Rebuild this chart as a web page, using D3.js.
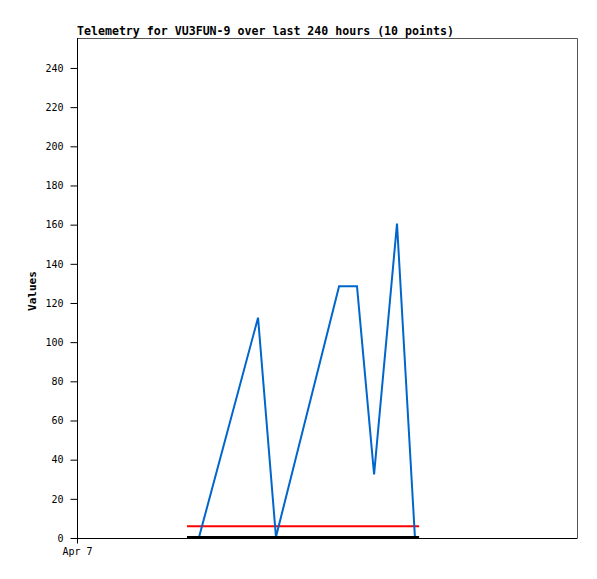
<!DOCTYPE html>
<html><head><meta charset="utf-8">
<script src="https://cdn.jsdelivr.net/npm/d3@7"></script>
<style>body{margin:0;background:#fff}</style>
</head><body>
<svg id="c" width="597" height="579"></svg>
<script>
const title = "Telemetry for VU3FUN-9 over last 240 hours (10 points)";
const hours = [52.8, 58.6, 86.9, 95.5, 125.8, 134.4, 142.6, 153.6, 162.2, 164.2];
const valuesBlue = [0, 0, 112, 0, 128, 128, 32, 160, 0, 0];
const valuesRed = [6, 6, 6, 6, 6, 6, 6, 6, 6, 6];
const valuesBlack = [0, 0, 0, 0, 0, 0, 0, 0, 0, 0];
const yTicks = [0, 20, 40, 60, 80, 100, 120, 140, 160, 180, 200, 220, 240];
const xTickLabels = ["Apr 7"];
const xTickHours = [0];

const svg = d3.select("#c");
const L = 77, T = 38, R = 577, B = 538;
const x = d3.scaleLinear().domain([0, 240]).range([L, R]);
const y = d3.scaleLinear().domain([0, 255.3]).range([B, T]);
const mono = "'DejaVu Sans Mono', monospace";

svg.append("path").attr("d", `M${L},${T+0.5}H${R+0.5}V${B}`).attr("fill","none").attr("stroke","#555").attr("stroke-width",1);

const ya = svg.append("g").attr("transform", `translate(${L+0.5},0)`)
  .call(d3.axisLeft(y).tickValues(yTicks).tickSize(7).tickPadding(7).tickFormat(d3.format("d")));
ya.select(".domain").attr("stroke","#000").attr("d", `M0,${T}V${B}`);
ya.selectAll("text").attr("font-family", mono).attr("font-size", 10).attr("fill","#000");
ya.selectAll("line").attr("stroke","#000");

const xa = svg.append("g").attr("transform", `translate(0,${B+0.5})`)
  .call(d3.axisBottom(x).tickValues(xTickHours).tickSize(5).tickPadding(4).tickFormat((d,i)=>xTickLabels[i]));
xa.select(".domain").attr("stroke","#000").attr("d", `M${L},0H${R+0.5}`);
xa.selectAll("text").attr("font-family", mono).attr("font-size", 10).attr("fill","#000");
xa.selectAll("line").attr("stroke","#000");

const line = vals => d3.line().x((d,i)=>x(hours[i])).y(d=>y(d))(vals);
svg.append("path").attr("d", line(valuesRed)).attr("fill","none").attr("stroke","#ff0000").attr("stroke-width",2);
svg.append("path").attr("d", line(valuesBlue)).attr("fill","none").attr("stroke","#0066cc").attr("stroke-width",2).attr("transform","translate(0,-1)");
svg.append("path").attr("d", line(valuesBlack)).attr("fill","none").attr("stroke","#000").attr("stroke-width",2).attr("transform","translate(0,-1)");

svg.append("text").attr("x", L).attr("y", 35).text(title)
  .attr("font-family", mono).attr("font-weight","bold").attr("font-size", 11.6).attr("fill","#000");

svg.append("text").attr("transform", `translate(36,${(T+B)/2+3}) rotate(-90)`).attr("text-anchor","middle")
  .text("Values").attr("font-family", mono).attr("font-weight","bold").attr("font-size", 11).attr("fill","#000");
</script>
</body></html>
